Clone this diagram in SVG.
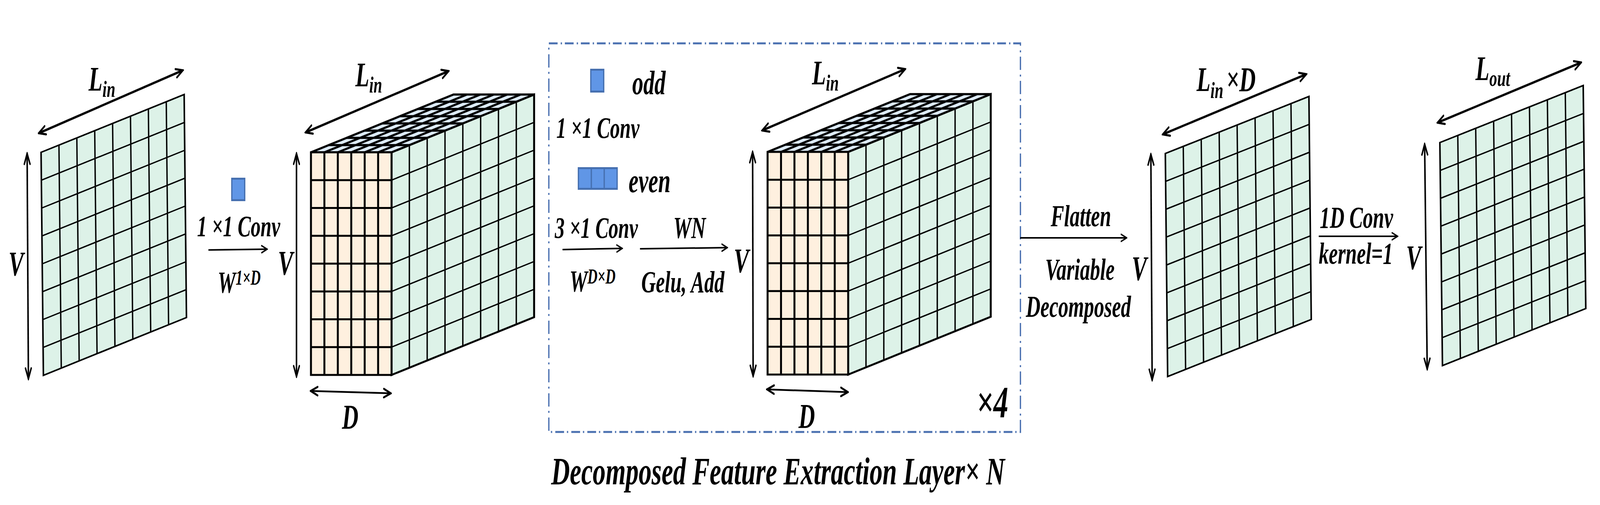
<svg xmlns="http://www.w3.org/2000/svg" xmlns:xlink="http://www.w3.org/1999/xlink" width="6195" height="1293" viewBox="0 0 6195 1293" preserveAspectRatio="none" style="width:100vw;height:100vh">
<style>
text{font-family:"Liberation Serif","Times New Roman",serif;font-weight:bold;font-style:italic;fill:#000}
.lab{font-size:88px}
.sub{font-size:60px}
.fl{font-size:78px}
.cv{font-size:76px}
.sup{font-size:54px}
.gf{fill:#DDF2E8;stroke:none}
.gl{fill:none;stroke:#000;stroke-width:3.5;vector-effect:non-scaling-stroke}
.go{fill:none;stroke:#000;stroke-width:4;vector-effect:non-scaling-stroke}
.ff{fill:#FEF0DF;stroke:none}
.fline{fill:none;stroke:#000;stroke-width:5;vector-effect:non-scaling-stroke}
.tf{fill:#DDEBF7;stroke:none}
.tline{fill:none;stroke:#000;stroke-width:5.5;vector-effect:non-scaling-stroke}
.dim{fill:none;stroke:#000;stroke-width:6;marker-start:url(#ahT);marker-end:url(#ahT)}
.dimd{fill:none;stroke:#000;stroke-width:4.5;marker-start:url(#ahT);marker-end:url(#ahT)}
.flow{fill:none;stroke:#000;stroke-width:4;marker-end:url(#ah)}
.blue{fill:#6096E6;stroke:#4670B0;stroke-width:5}
</style>
<defs>
<marker id="ah" viewBox="0 0 26 22" refX="23" refY="11" markerWidth="26" markerHeight="22" markerUnits="userSpaceOnUse" orient="auto-start-reverse">
<path d="M2,2 L23,11 L2,20" fill="none" stroke="#000" stroke-width="4" stroke-linecap="round"/>
</marker>
<marker id="ahT" viewBox="0 0 34 28" refX="30" refY="14" markerWidth="34" markerHeight="28" markerUnits="userSpaceOnUse" orient="auto-start-reverse">
<path d="M3,3 L30,14 L3,25" fill="none" stroke="#000" stroke-width="5.5" stroke-linecap="round"/>
</marker>
<g id="g8">
<rect width="8" height="8" class="gf"/>
<path class="gl" d="M1,0V8M2,0V8M3,0V8M4,0V8M5,0V8M6,0V8M7,0V8M0,1H8M0,2H8M0,3H8M0,4H8M0,5H8M0,6H8M0,7H8"/>
<rect width="8" height="8" class="go"/>
</g>
<g id="cube">
<g transform="matrix(69,-18.5,0,71.25,312,0)">
<rect width="8" height="8" class="gf"/>
<path class="gl" d="M1,0V8M2,0V8M3,0V8M4,0V8M5,0V8M6,0V8M7,0V8M0,1H8M0,2H8M0,3H8M0,4H8M0,5H8M0,6H8M0,7H8"/>
<rect width="8" height="8" class="fline"/>
</g>
<g transform="matrix(52,0,69,-18.5,0,0)">
<rect width="6" height="8" class="tf"/>
<path class="tline" d="M1,0V8M2,0V8M3,0V8M4,0V8M5,0V8M0,1H6M0,2H6M0,3H6M0,4H6M0,5H6M0,6H6M0,7H6"/>
<rect width="6" height="8" class="tline"/>
</g>
<g transform="matrix(52,0,0,71.25,0,0)">
<rect width="6" height="8" class="ff"/>
<path class="fline" d="M1,0V8M2,0V8M3,0V8M4,0V8M5,0V8M0,1H6M0,2H6M0,3H6M0,4H6M0,5H6M0,6H6M0,7H6"/>
<rect width="6" height="8" class="fline"/>
</g>
</g>
</defs>
<rect width="6195" height="1293" fill="#fff"/>

<g id="input-grid">
<use xlink:href="#g8" transform="matrix(69.25,-18.5,1.125,71.375,159,390)"/>
<path class="dim" d="M150,341 L708,180"/>
<path class="dim" d="M105,393 L110,970"/>
<text class="lab" x="33" y="232" dx="310">L<tspan class="sub" dy="16">in</tspan></text>
<text class="lab" x="33" y="705">V</text>
</g>

<g id="embedding-cube">
<use xlink:href="#cube" transform="translate(1204,390)"/>
<path class="dim" d="M1183,339 L1737,182"/>
<path class="dim" d="M1148,393 L1148,964"/>
<path class="dimd" d="M1203,1001 L1513,1007"/>
<text class="lab" x="1376" y="221">L<tspan class="sub" dy="16">in</tspan></text>
<text class="lab" x="1076" y="703">V</text>
<text class="lab" x="1324" y="1097">D</text>
</g>

<g id="layer-box">
<rect x="2125" y="111" width="1826" height="995" fill="none" stroke="#4A70B0" stroke-width="5" stroke-dasharray="34 12 5 11"/>
<text x="3781" y="1068" style="font-size:115px">×4</text>
<text x="2134" y="1240" style="font-size:100px">Decomposed Feature Extraction Layer× N</text>
</g>

<g id="legend">
<rect class="blue" x="2287.5" y="178.5" width="50" height="56"/>
<text x="2448" y="241" style="font-size:86px">odd</text>
<text class="cv" x="2154" y="353">1 ×1 Conv</text>
<rect class="blue" x="2239.5" y="430.5" width="150" height="53"/>
<path d="M2289.5,430.5V483.5M2339.5,430.5V483.5" stroke="#4670B0" stroke-width="5" fill="none"/>
<text x="2434" y="492" style="font-size:86px">even</text>
</g>

<g id="feature-cube">
<use xlink:href="#cube" transform="translate(2972,389)"/>
<path class="dim" d="M2951,334 L3505,177"/>
<path class="dim" d="M2914,389 L2916,963"/>
<path class="dimd" d="M2970,997 L3283,1004"/>
<text class="lab" x="3144" y="216">L<tspan class="sub" dy="16">in</tspan></text>
<text class="lab" x="2841" y="697">V</text>
<text class="lab" x="3092" y="1095">D</text>
</g>

<g id="flattened-grid">
<use xlink:href="#g8" transform="matrix(69.5,-18.25,1.125,71.375,4512,393)"/>
<path class="dim" d="M4502,344 L5058,190"/>
<path class="dim" d="M4456,395 L4461,973"/>
<text class="lab" x="4633" y="233">L<tspan class="sub" dy="18">in</tspan></text>
<text class="lab" x="4748" y="233">×D</text>
<text class="lab" x="4382" y="717">V</text>
</g>

<g id="output-grid">
<use xlink:href="#g8" transform="matrix(69.375,-18.25,1.25,71.375,5575,365)"/>
<path class="dim" d="M5566,314 L6122,160"/>
<path class="dim" d="M5516,369 L5526,945"/>
<text class="lab" x="5713" y="205">L<tspan class="sub" dy="15">out</tspan></text>
<text class="lab" x="5444" y="689">V</text>
</g>

<g id="connectors">
<path class="flow" d="M807,640 L1034,638"/>
<rect class="blue" x="897.5" y="457.5" width="50" height="55"/>
<text class="cv" x="763" y="605">1 ×1 Conv</text>
<text class="fl" x="843" y="749">W<tspan class="sup" dy="-20">1×D</tspan></text>

<path class="flow" d="M2178,639 L2409,636"/>
<text class="cv" x="2148" y="609">3 ×1 Conv</text>
<text class="fl" x="2205" y="746">W<tspan class="sup" dy="-20">D×D</tspan></text>

<path class="flow" d="M2478,637 L2816,634"/>
<text class="fl" x="2607" y="609">WN</text>
<text class="fl" x="2483" y="748">Gelu, Add</text>

<path class="flow" d="M3950,609 L4362,609"/>
<text class="fl" x="4068" y="579">Flatten</text>
<text class="fl" x="4047" y="716">Variable</text>
<text class="fl" x="3972" y="811">Decomposed</text>

<path class="flow" d="M5106,605 L5411,605"/>
<text class="fl" x="5110" y="583">1D Conv</text>
<text class="fl" x="5106" y="675">kernel=1</text>
</g>
</svg>
